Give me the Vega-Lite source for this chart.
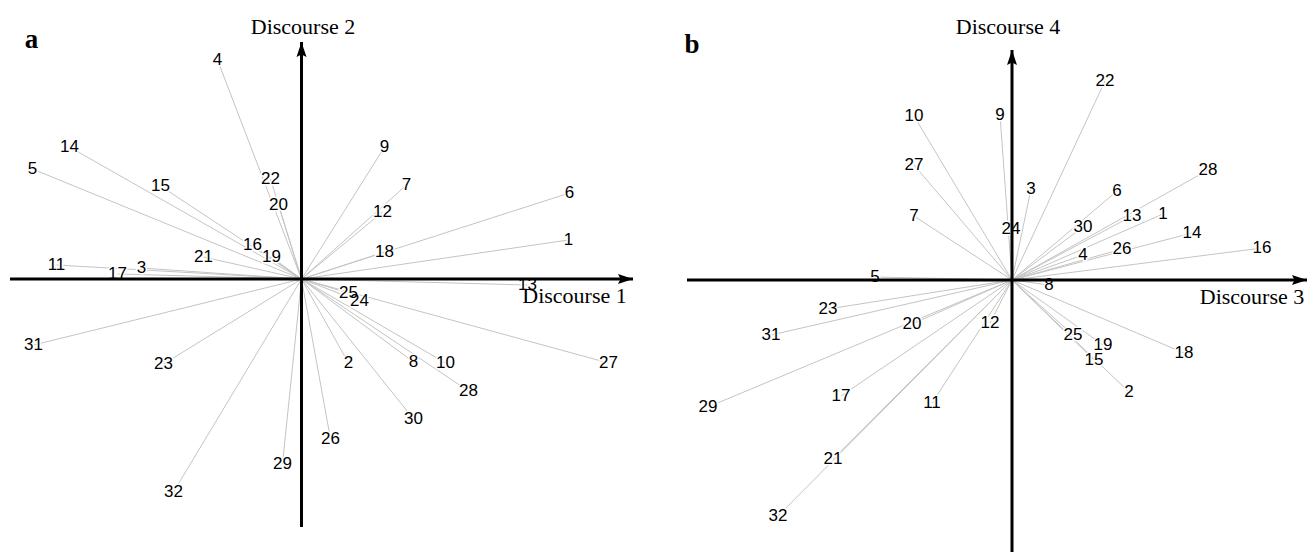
{
  "$schema": "https://vega.github.io/schema/vega-lite/v6.json",
  "padding": 0,
  "spacing": 0,
  "bounds": "flush",
  "config": {"view": {"stroke": null}},
  "datasets": {
    "pa": [
      {"id": "1", "x": 2.67, "y": 0.39},
      {"id": "2", "x": 0.47, "y": -0.84},
      {"id": "3", "x": -1.60, "y": 0.11},
      {"id": "4", "x": -0.84, "y": 2.19},
      {"id": "5", "x": -2.69, "y": 1.10},
      {"id": "6", "x": 2.68, "y": 0.86},
      {"id": "7", "x": 1.05, "y": 0.94},
      {"id": "8", "x": 1.12, "y": -0.83},
      {"id": "9", "x": 0.83, "y": 1.32},
      {"id": "10", "x": 1.44, "y": -0.84},
      {"id": "11", "x": -2.45, "y": 0.14},
      {"id": "12", "x": 0.81, "y": 0.67},
      {"id": "13", "x": 2.26, "y": -0.06},
      {"id": "14", "x": -2.32, "y": 1.32},
      {"id": "15", "x": -1.41, "y": 0.93},
      {"id": "16", "x": -0.49, "y": 0.34},
      {"id": "17", "x": -1.84, "y": 0.05},
      {"id": "18", "x": 0.83, "y": 0.27},
      {"id": "19", "x": -0.30, "y": 0.22},
      {"id": "20", "x": -0.23, "y": 0.74},
      {"id": "21", "x": -0.98, "y": 0.22},
      {"id": "22", "x": -0.31, "y": 1.00},
      {"id": "23", "x": -1.38, "y": -0.85},
      {"id": "24", "x": 0.58, "y": -0.22},
      {"id": "25", "x": 0.47, "y": -0.14},
      {"id": "26", "x": 0.29, "y": -1.60},
      {"id": "27", "x": 3.07, "y": -0.84},
      {"id": "28", "x": 1.67, "y": -1.12},
      {"id": "29", "x": -0.19, "y": -1.85},
      {"id": "30", "x": 1.12, "y": -1.40},
      {"id": "31", "x": -2.68, "y": -0.66},
      {"id": "32", "x": -1.28, "y": -2.13}
    ],
    "pb": [
      {"id": "1", "x": 1.51, "y": 0.66},
      {"id": "2", "x": 1.17, "y": -1.12},
      {"id": "3", "x": 0.19, "y": 0.91},
      {"id": "4", "x": 0.71, "y": 0.25},
      {"id": "5", "x": -1.37, "y": 0.03},
      {"id": "6", "x": 1.05, "y": 0.89},
      {"id": "7", "x": -0.98, "y": 0.64},
      {"id": "8", "x": 0.37, "y": -0.05},
      {"id": "9", "x": -0.12, "y": 1.65},
      {"id": "10", "x": -0.98, "y": 1.64},
      {"id": "11", "x": -0.80, "y": -1.23},
      {"id": "12", "x": -0.22, "y": -0.43},
      {"id": "13", "x": 1.20, "y": 0.64},
      {"id": "14", "x": 1.80, "y": 0.47},
      {"id": "15", "x": 0.82, "y": -0.80},
      {"id": "16", "x": 2.50, "y": 0.32},
      {"id": "17", "x": -1.71, "y": -1.16},
      {"id": "18", "x": 1.72, "y": -0.73},
      {"id": "19", "x": 0.91, "y": -0.65},
      {"id": "20", "x": -1.00, "y": -0.44},
      {"id": "21", "x": -1.79, "y": -1.79},
      {"id": "22", "x": 0.93, "y": 1.99},
      {"id": "23", "x": -1.84, "y": -0.29},
      {"id": "24", "x": -0.01, "y": 0.51},
      {"id": "25", "x": 0.61, "y": -0.55},
      {"id": "26", "x": 1.10, "y": 0.31},
      {"id": "27", "x": -0.98, "y": 1.15},
      {"id": "28", "x": 1.96, "y": 1.10},
      {"id": "29", "x": -3.04, "y": -1.27},
      {"id": "30", "x": 0.71, "y": 0.53},
      {"id": "31", "x": -2.41, "y": -0.55},
      {"id": "32", "x": -2.34, "y": -2.36}
    ],
    "axa": [
      {"axis": "h", "x1": -2.915, "x2": 3.315, "y1": 0, "y2": 0},
      {"axis": "v", "x1": 0, "x2": 0, "y1": -2.48, "y2": 2.37}
    ],
    "axb": [
      {"axis": "h", "x1": -3.25, "x2": 2.95, "y1": 0, "y2": 0},
      {"axis": "v", "x1": 0, "x2": 0, "y1": -2.72, "y2": 2.30}
    ],
    "tita": [
      {"kind": "axis", "label": "Discourse 1", "x": 2.73, "y": -0.17},
      {"kind": "axis", "label": "Discourse 2", "x": 0.015, "y": 2.52},
      {"kind": "panel", "label": "a", "x": -2.70, "y": 2.39}
    ],
    "titb": [
      {"kind": "axis", "label": "Discourse 3", "x": 2.40, "y": -0.17},
      {"kind": "axis", "label": "Discourse 4", "x": -0.04, "y": 2.53},
      {"kind": "panel", "label": "b", "x": -3.20, "y": 2.35}
    ]
  },
  "hconcat": [
    {
      "width": 654,
      "height": 555,
      "layer": [
        {
          "data": {"name": "pa"},
          "mark": {"type": "rule", "color": "#c4c4c4", "strokeWidth": 1},
          "encoding": {
            "x": {"field": "x", "type": "quantitative", "scale": {"domain": [-3.015, 3.525], "nice": false, "zero": false}, "axis": null},
            "y": {"field": "y", "type": "quantitative", "scale": {"domain": [-2.76, 2.79], "nice": false, "zero": false}, "axis": null},
            "x2": {"datum": 0},
            "y2": {"datum": 0}
          }
        },
        {
          "data": {"name": "pa"},
          "mark": {"type": "text", "font": "Liberation Sans", "fontSize": 17, "color": "white", "stroke": "white", "strokeWidth": 3, "align": "center", "baseline": "middle"},
          "encoding": {
            "x": {"field": "x", "type": "quantitative", "axis": null},
            "y": {"field": "y", "type": "quantitative", "axis": null},
            "text": {"field": "id"}
          }
        },
        {
          "data": {"name": "pa"},
          "mark": {"type": "text", "font": "Liberation Sans", "fontSize": 17, "color": "black", "align": "center", "baseline": "middle"},
          "encoding": {
            "x": {"field": "x", "type": "quantitative", "axis": null},
            "y": {"field": "y", "type": "quantitative", "axis": null},
            "text": {"field": "id"}
          }
        },
        {
          "data": {"name": "axa"},
          "mark": {"type": "rule", "color": "black", "strokeWidth": 3},
          "encoding": {
            "x": {"field": "x1", "type": "quantitative", "axis": null},
            "x2": {"field": "x2"},
            "y": {"field": "y1", "type": "quantitative", "axis": null},
            "y2": {"field": "y2"}
          }
        },
        {
          "data": {"name": "axa"},
          "transform": [{"filter": "datum.axis === 'h'"}],
          "mark": {"type": "point", "shape": "M0,0L-0.4,1.2L0,1L0.4,1.2Z", "size": 625, "filled": true, "color": "black", "opacity": 1, "angle": 90, "strokeWidth": 0},
          "encoding": {
            "x": {"field": "x2", "type": "quantitative", "axis": null},
            "y": {"field": "y2", "type": "quantitative", "axis": null}
          }
        },
        {
          "data": {"name": "axa"},
          "transform": [{"filter": "datum.axis === 'v'"}],
          "mark": {"type": "point", "shape": "M0,0L-0.4,1.2L0,1L0.4,1.2Z", "size": 625, "filled": true, "color": "black", "opacity": 1, "angle": 0, "strokeWidth": 0},
          "encoding": {
            "x": {"field": "x2", "type": "quantitative", "axis": null},
            "y": {"field": "y2", "type": "quantitative", "axis": null}
          }
        },
        {
          "data": {"name": "tita"},
          "transform": [{"filter": "datum.kind === 'axis'"}],
          "mark": {"type": "text", "font": "Liberation Serif", "fontSize": 22, "color": "black", "align": "center", "baseline": "middle"},
          "encoding": {
            "x": {"field": "x", "type": "quantitative", "axis": null},
            "y": {"field": "y", "type": "quantitative", "axis": null},
            "text": {"field": "label"}
          }
        },
        {
          "data": {"name": "tita"},
          "transform": [{"filter": "datum.kind === 'panel'"}],
          "mark": {"type": "text", "font": "Liberation Serif", "fontSize": 27, "fontWeight": "bold", "color": "black", "align": "center", "baseline": "middle"},
          "encoding": {
            "x": {"field": "x", "type": "quantitative", "axis": null},
            "y": {"field": "y", "type": "quantitative", "axis": null},
            "text": {"field": "label"}
          }
        }
      ]
    },
    {
      "width": 654,
      "height": 555,
      "layer": [
        {
          "data": {"name": "pb"},
          "mark": {"type": "rule", "color": "#c4c4c4", "strokeWidth": 1},
          "encoding": {
            "x": {"field": "x", "type": "quantitative", "scale": {"domain": [-3.58, 2.96], "nice": false, "zero": false}, "axis": null},
            "y": {"field": "y", "type": "quantitative", "scale": {"domain": [-2.75, 2.80], "nice": false, "zero": false}, "axis": null},
            "x2": {"datum": 0},
            "y2": {"datum": 0}
          }
        },
        {
          "data": {"name": "pb"},
          "mark": {"type": "text", "font": "Liberation Sans", "fontSize": 17, "color": "white", "stroke": "white", "strokeWidth": 3, "align": "center", "baseline": "middle"},
          "encoding": {
            "x": {"field": "x", "type": "quantitative", "axis": null},
            "y": {"field": "y", "type": "quantitative", "axis": null},
            "text": {"field": "id"}
          }
        },
        {
          "data": {"name": "pb"},
          "mark": {"type": "text", "font": "Liberation Sans", "fontSize": 17, "color": "black", "align": "center", "baseline": "middle"},
          "encoding": {
            "x": {"field": "x", "type": "quantitative", "axis": null},
            "y": {"field": "y", "type": "quantitative", "axis": null},
            "text": {"field": "id"}
          }
        },
        {
          "data": {"name": "axb"},
          "mark": {"type": "rule", "color": "black", "strokeWidth": 3},
          "encoding": {
            "x": {"field": "x1", "type": "quantitative", "axis": null},
            "x2": {"field": "x2"},
            "y": {"field": "y1", "type": "quantitative", "axis": null},
            "y2": {"field": "y2"}
          }
        },
        {
          "data": {"name": "axb"},
          "transform": [{"filter": "datum.axis === 'h'"}],
          "mark": {"type": "point", "shape": "M0,0L-0.4,1.2L0,1L0.4,1.2Z", "size": 625, "filled": true, "color": "black", "opacity": 1, "angle": 90, "strokeWidth": 0},
          "encoding": {
            "x": {"field": "x2", "type": "quantitative", "axis": null},
            "y": {"field": "y2", "type": "quantitative", "axis": null}
          }
        },
        {
          "data": {"name": "axb"},
          "transform": [{"filter": "datum.axis === 'v'"}],
          "mark": {"type": "point", "shape": "M0,0L-0.4,1.2L0,1L0.4,1.2Z", "size": 625, "filled": true, "color": "black", "opacity": 1, "angle": 0, "strokeWidth": 0},
          "encoding": {
            "x": {"field": "x2", "type": "quantitative", "axis": null},
            "y": {"field": "y2", "type": "quantitative", "axis": null}
          }
        },
        {
          "data": {"name": "titb"},
          "transform": [{"filter": "datum.kind === 'axis'"}],
          "mark": {"type": "text", "font": "Liberation Serif", "fontSize": 22, "color": "black", "align": "center", "baseline": "middle"},
          "encoding": {
            "x": {"field": "x", "type": "quantitative", "axis": null},
            "y": {"field": "y", "type": "quantitative", "axis": null},
            "text": {"field": "label"}
          }
        },
        {
          "data": {"name": "titb"},
          "transform": [{"filter": "datum.kind === 'panel'"}],
          "mark": {"type": "text", "font": "Liberation Serif", "fontSize": 27, "fontWeight": "bold", "color": "black", "align": "center", "baseline": "middle"},
          "encoding": {
            "x": {"field": "x", "type": "quantitative", "axis": null},
            "y": {"field": "y", "type": "quantitative", "axis": null},
            "text": {"field": "label"}
          }
        }
      ]
    }
  ]
}
